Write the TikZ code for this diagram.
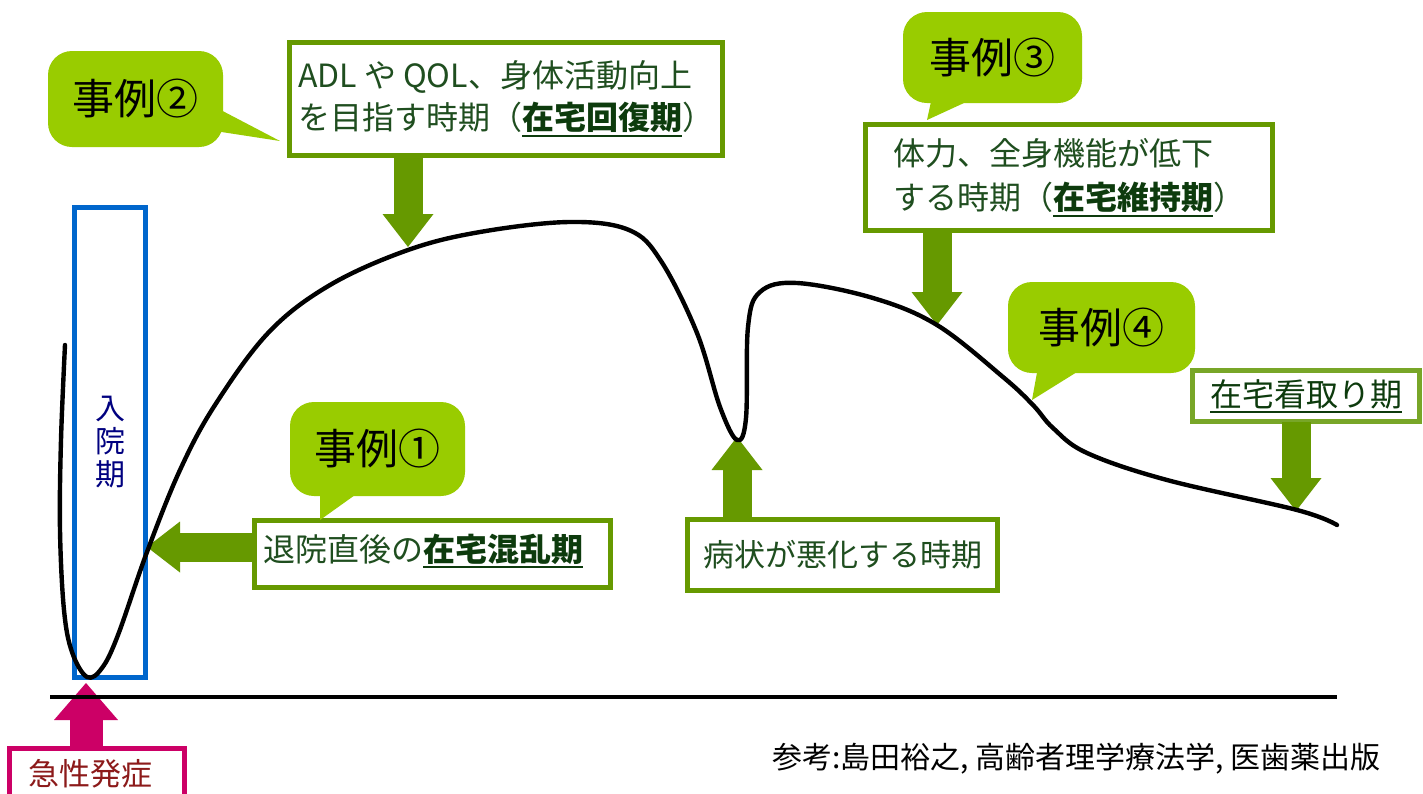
\documentclass[tikz,border=0pt]{standalone}
\usepackage{fontspec}
\setmainfont{Noto Sans CJK JP}
\usetikzlibrary{arrows.meta,calc}
\definecolor{callout}{HTML}{99CC00}
\definecolor{boxgreen}{HTML}{669900}
\definecolor{lightboxgreen}{HTML}{78A628}
\definecolor{txtgreen}{HTML}{1F4E1F}
\definecolor{ulgreen}{HTML}{0D3B0D}
\definecolor{bluebox}{HTML}{0066CC}
\definecolor{navytxt}{HTML}{000080}
\definecolor{pinkbox}{HTML}{CC0066}
\definecolor{redtxt}{HTML}{8C1A1A}
\newcommand\myulb[1]{\leavevmode\vtop{\hbox{\color{ulgreen}\bfseries #1}\kern1pt{\color{ulgreen}\hrule height 1pt}}}
\newcommand\myul[1]{\leavevmode\vtop{\hbox{\color{ulgreen}#1}\kern1pt{\color{ulgreen}\hrule height 1pt}}}
\begin{document}
\begin{tikzpicture}[x=0.5pt,y=-0.5pt,
  every node/.style={inner sep=0pt, outer sep=0pt},
  greenbox/.style={draw=boxgreen, line width=2.5pt, fill=white},
  bubble/.style={fill=callout, rounded corners=12pt, text=black, font=\fontsize{21}{24}\selectfont},
  bigarrow/.style={draw=boxgreen, line width=14.5pt, -{Triangle[width=25.5pt,length=16.5pt,line width=0pt]}},
  pinkarrow/.style={draw=pinkbox, line width=16.5pt, -{Triangle[width=32pt,length=18.5pt,line width=0pt]}},
  curve/.style={line width=2.2pt, line join=round, line cap=round},
  gtext/.style={text=txtgreen, align=left},
]
\clip (0,0) rectangle (1423,793);
\fill[white] (0,0) rectangle (1423,793);

% hospital period box
\node[draw=bluebox, line width=2.5pt, minimum width=35.5pt, minimum height=235pt,
      text=navytxt, align=center, font=\fontsize{15}{16.5}\selectfont] (hosp) at (110,442.5) {入\\院\\期};

% green boxes
\node[greenbox, gtext, minimum width=216.5pt, minimum height=56.5pt,
      font=\fontsize{16}{21}\selectfont] (adl) at (506,99)
  {ADL や QOL、身体活動向上\\を目指す時期（\myulb{在宅回復期}）};
\node[greenbox, gtext, minimum width=203.5pt, minimum height=53pt,
      font=\fontsize{16}{22}\selectfont] (tai) at (1069,177.5)
  {体力、全身機能が低下\\する時期（\myulb{在宅維持期}）};
\node[greenbox, draw=lightboxgreen, gtext, minimum width=113.5pt, minimum height=25.5pt,
      font=\fontsize{16}{20}\selectfont] (mitori) at (1306,396)
  {\myul{在宅看取り期}};
\node[greenbox, minimum width=178pt, minimum height=33.5pt] (taiin) at (432.5,554) {};
\node[gtext, font=\fontsize{16}{20}\selectfont] (taiintxt) at (423,551)
  {退院直後の\myulb{在宅混乱期}};
\node[greenbox, gtext, minimum width=155pt, minimum height=35.5pt,
      font=\fontsize{15.5}{20}\selectfont] (byo) at (842.5,555) {病状が悪化する時期};

% onset box
\node[draw=pinkbox, line width=2.5pt, fill=white, minimum width=87.5pt, minimum height=34.5pt] (onset) at (97,783) {};
\node[text=redtxt, font=\fontsize{15.5}{20}\selectfont] (onsettxt) at (90,774) {急性発症};

% callouts
\coordinate (t1) at (320,520);
\coordinate (t2) at (280,141);
\coordinate (t3) at (927,120);
\coordinate (t4) at (1032,400);
\node[bubble, minimum width=87.5pt, minimum height=48pt] (c2) at (135.5,99) {事例②};
\fill[callout] ($(c2.east)+(-8,8)$) -- (t2) -- ($(c2.east)+(-8,32)$) -- cycle;
\node[bubble, minimum width=87.5pt, minimum height=47pt] (c1) at (377.5,449) {事例①};
\fill[callout] ($(c1.south)+(-57.5,-6)$) -- (t1) -- ($(c1.south)+(-15.5,-6)$) -- cycle;
\node[bubble, minimum width=89.5pt, minimum height=45.5pt] (c3) at (992.5,57.5) {事例③};
\fill[callout] ($(c3.south)+(-60.5,-6)$) -- (t3) -- ($(c3.south)+(-15.5,-6)$) -- cycle;
\node[bubble, minimum width=93.5pt, minimum height=45.5pt] (c4) at (1101.5,327.5) {事例④};
\fill[callout] ($(c4.south)+(-63.5,-6)$) -- (t4) -- ($(c4.south)+(-16.5,-6)$) -- cycle;

% block arrows
\coordinate (pA) at (408,247);
\coordinate (pB) at (937,325);
\coordinate (pC) at (1296,511);
\coordinate (pD) at (147,547);
\coordinate (pE) at (737,437);
\coordinate (pF) at (86,683);
\draw[bigarrow] (adl.south -| pA) -- (pA);
\draw[bigarrow] (tai.south -| pB) -- (pB);
\draw[bigarrow] (mitori.south -| pC) -- (pC);
\draw[bigarrow] (taiin.west |- pD) -- (pD);
\draw[bigarrow] (byo.north -| pE) -- (pE);
\draw[pinkarrow] (onset.north -| pF) -- (pF);

% baseline
\coordinate (bl) at (50,697);
\coordinate (br) at (1337,697);
\draw[line width=1.75pt] (bl) -- (br);

% curve
\draw[curve] plot[smooth, tension=0.6] coordinates {(65,345) (61,440) (60,530) (64,610) (72,652) (87,677) (102,668) (118,635) (147,552) (180,470) (215,405) (269,332) (330,285) (408,250) (480,232) (569,222) (629,230) (661,261) (697,333) (720,407) (737,440) (746,418) (748,327) (760,292) (797,283) (873,298) (937,325) (1003,377) (1033,405) (1053,428) (1087,453) (1167,480) (1297,510) (1337,525)};

% reference
\node[anchor=west, font=\fontsize{15}{18}\selectfont] (ref) at (772,759) {参考:島田裕之, 高齢者理学療法学, 医歯薬出版};
\end{tikzpicture}
\end{document}
